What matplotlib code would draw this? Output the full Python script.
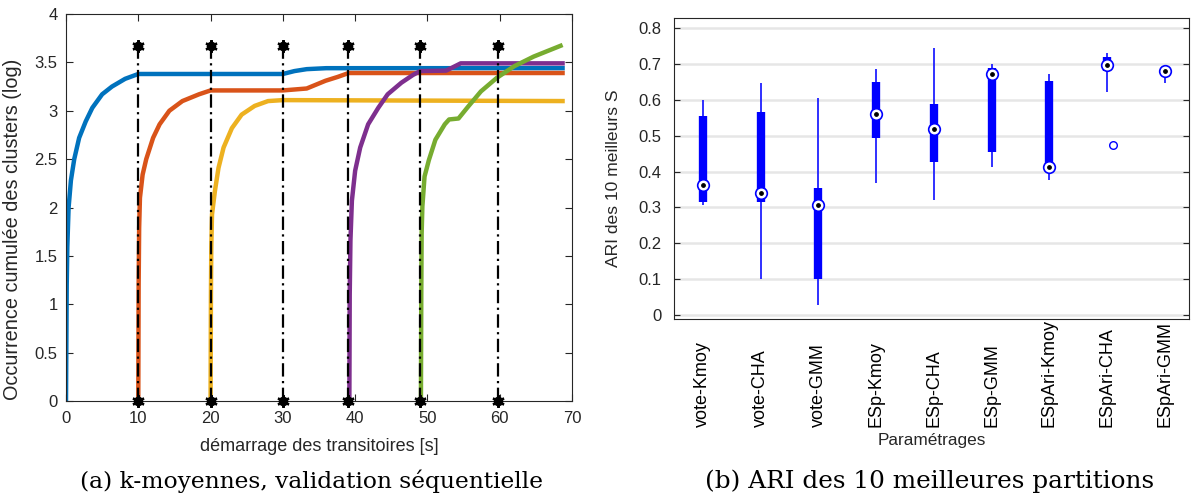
import numpy as np
import matplotlib
matplotlib.use('Agg')
import matplotlib.pyplot as plt

plt.rcParams['font.family'] = ['Liberation Sans', 'DejaVu Sans']

# ---- (a) cumulated cluster occurrence, one curve per transient start
t_blue = [0, 0.1, 0.18, 0.36, 0.68, 1.14, 1.82, 2.73, 3.64, 5.0, 6.36, 8.18, 10.0, 30.0, 31.6, 33.3, 36.0, 69.0]
y_blue = [0, 1.2, 1.59, 2.0, 2.28, 2.5, 2.72, 2.89, 3.03, 3.17, 3.25, 3.33, 3.38, 3.38, 3.41, 3.43, 3.44, 3.44]

t_orange = [10.0, 10.05, 10.12, 10.23, 10.6, 11.1, 12.05, 12.95, 14.3, 16.1, 18.4, 20.0, 30.0, 33.3, 35.9, 37.6, 39.1, 69.0]
y_orange = [0, 1.2, 1.79, 2.10, 2.34, 2.5, 2.72, 2.86, 3.0, 3.10, 3.17, 3.21, 3.21, 3.23, 3.31, 3.35, 3.39, 3.39]

t_yellow = [20.0, 20.05, 20.1, 20.2, 20.6, 21.1, 21.8, 22.95, 24.3, 26.1, 27.95, 30.0, 69.0]
y_yellow = [0, 1.1, 1.59, 1.93, 2.17, 2.41, 2.62, 2.82, 2.96, 3.05, 3.10, 3.11, 3.10]

t_purple = [39.2, 39.25, 39.35, 39.55, 40.0, 40.7, 41.8, 43.2, 44.5, 46.4, 48.0, 49.0, 52.6, 54.6, 69.0]
y_purple = [0, 1.1, 1.66, 2.07, 2.38, 2.62, 2.86, 3.03, 3.17, 3.29, 3.37, 3.41, 3.415, 3.49, 3.49]

t_green = [49.1, 49.15, 49.2, 49.3, 49.6, 50.2, 51.1, 52.4, 53.0, 54.3, 55.6, 57.4, 59.6, 62.0, 64.7, 68.7]
y_green = [0, 1.1, 1.73, 2.01, 2.32, 2.49, 2.70, 2.86, 2.91, 2.92, 3.04, 3.20, 3.34, 3.46, 3.56, 3.68]

t_marks = [10, 20, 30, 39, 49, 59.7]
y_mark_top = 3.67

# ---- (b) ARI of the 10 best partitions (compact boxplot stats)
settings = ['vote-Kmoy', 'vote-CHA', 'vote-GMM', 'ESp-Kmoy', 'ESp-CHA', 'ESp-GMM',
            'ESpAri-Kmoy', 'ESpAri-CHA', 'ESpAri-GMM']
whisk_hi = [0.600, 0.648, 0.604, 0.686, 0.743, 0.700, 0.672, 0.730, 0.684]
q3 = [0.555, 0.567, 0.354, 0.649, 0.587, 0.689, 0.653, 0.718, 0.682]
med = [0.362, 0.339, 0.308, 0.560, 0.518, 0.673, 0.414, 0.696, 0.681]
q1 = [0.314, 0.314, 0.100, 0.494, 0.428, 0.455, 0.418, 0.679, 0.680]
whisk_lo = [0.306, 0.100, 0.027, 0.367, 0.322, 0.414, 0.377, 0.621, 0.647]
outlier_pos = [8.1]
outlier_val = [0.474]

colors = ['#0072BD', '#D95319', '#EDB120', '#7E2F8E', '#77AC30']
txt = '#262626'

fig = plt.figure(figsize=(11.92, 4.97), dpi=100)

# left panel
ax = fig.add_axes([66/1192, 96/497, 506/1192, 387/497])
for t, y, c in zip([t_blue, t_orange, t_yellow, t_purple, t_green],
                   [y_blue, y_orange, y_yellow, y_purple, y_green], colors):
    ax.plot(t, y, color=c, lw=3.2, solid_capstyle='butt', zorder=2)
for tm in t_marks:
    ax.plot([tm, tm], [0, y_mark_top], color='k', lw=1.6, ls=(0, (6, 2, 1, 2)), zorder=3)
    ax.plot([tm, tm], [0, y_mark_top], ls='none', marker='o', ms=6, color='k', zorder=4, clip_on=False)
    ax.plot([tm, tm], [0, y_mark_top], ls='none', marker=(6, 2, 0), ms=9, mew=1.6, color='k', zorder=4, clip_on=False)
ax.set_xlim(0, 70)
ax.set_ylim(0, 4)
ax.set_xticks(np.arange(0, 71, 10))
ax.set_yticks(np.arange(0, 4.01, 0.5))
ax.set_yticklabels(['0', '0.5', '1', '1.5', '2', '2.5', '3', '3.5', '4'])
ax.tick_params(direction='in', top=True, right=True, length=5, width=0.8,
               labelsize=12, colors=txt, labelcolor=txt)
ax.tick_params(axis='x', pad=7)
ax.tick_params(axis='y', pad=6)
for s in ax.spines.values():
    s.set_color(txt)
    s.set_linewidth(0.8)
ax.set_xlabel('démarrage des transitoires [s]', fontsize=13, color=txt)
ax.xaxis.set_label_coords(0.5, -0.095)
ax.set_ylabel('Occurrence cumulée des clusters (log)', fontsize=14.3, color=txt)
ax.yaxis.set_label_coords(-0.087, 0.444)

# right panel
bx = fig.add_axes([674/1192, 178/497, 515/1192, 301/497])
pos = np.arange(1, len(settings) + 1)
bx.vlines(pos, whisk_lo, whisk_hi, color='#2020ff', lw=1.3, zorder=2)
bx.vlines(pos, q1, q3, color='#0000ff', lw=6, zorder=3)
bx.scatter(pos, med, s=70, facecolor='white', edgecolor='#0000ff', linewidth=1.2, zorder=4)
bx.scatter(pos, med, s=6, color='k', zorder=5)
bx.scatter(outlier_pos, outlier_val, s=30, facecolor='white', edgecolor='#0000ff', linewidth=1.0, zorder=4)
bx.set_xlim(0.5, 9.42)
bx.set_ylim(-0.011, 0.828)
bx.set_yticks(np.arange(0, 0.81, 0.1))
bx.set_yticklabels(['0', '0.1', '0.2', '0.3', '0.4', '0.5', '0.6', '0.7', '0.8'])
bx.grid(axis='y', color='#e6e6e6', lw=1.8, zorder=0)
bx.set_axisbelow(True)
bx.tick_params(axis='y', direction='in', left=True, right=True, length=4, width=0.8,
               labelsize=12, colors=txt, labelcolor=txt, pad=9)
bx.set_xticks(pos)
bx.set_xticklabels(settings, rotation=90, va='bottom', ha='center', fontsize=13, color='k')
bx.tick_params(axis='x', length=0, pad=77.5)
for s in bx.spines.values():
    s.set_color(txt)
    s.set_linewidth(0.8)
bx.set_ylabel('ARI des 10 meilleurs S', fontsize=12.6, color=txt)
bx.yaxis.set_label_coords(-0.102, 0.468)
bx.text(0.5, -0.405, 'Paramétrages', transform=bx.transAxes, ha='center', va='center',
        fontsize=12.4, color=txt)

# captions
fig.text(311/1192, 1 - 481/497, '(a) k-moyennes, validation séquentielle', ha='center', va='center',
         fontsize=16.8, family=['DejaVu Serif'])
fig.text(930/1192, 1 - 481/497, '(b) ARI des 10 meilleures partitions', ha='center', va='center',
         fontsize=17.8, family=['DejaVu Serif'])

fig.savefig('out.png', dpi=100)
